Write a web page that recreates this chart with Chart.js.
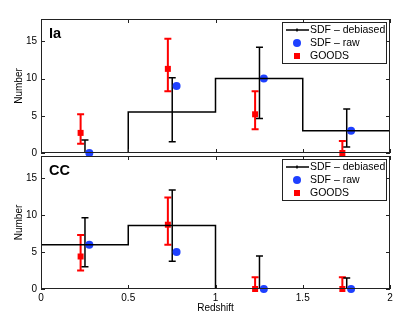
<!DOCTYPE html>
<html>
<head>
<meta charset="utf-8">
<script src="https://cdn.jsdelivr.net/npm/chart.js@4.4.0/dist/chart.umd.min.js"></script>
<style>
  body { margin: 0; background: #fff; }
  #wrap { position: relative; width: 415px; height: 322px; overflow: hidden; }
  canvas { position: absolute; left: 0; }
  #top { top: 0; }
  #bottom { top: 142px; }
</style>
</head>
<body>
<div id="wrap">
  <canvas id="top" width="415" height="167"></canvas>
  <canvas id="bottom" width="415" height="180"></canvas>
</div>
<script>
const FONT = '"Liberation Sans", Arial, Helvetica, sans-serif';

// bins and positions
const binEdges = [0, 0.5, 1, 1.5, 2];
const debX = [0.252, 0.752, 1.252, 1.752];
const rawX = [0.277, 0.777, 1.277, 1.777];
const goodsX = [0.227, 0.727, 1.227, 1.727];
const xTickValues = [0, 0.5, 1, 1.5, 2];
const xTickLabels = ['0', '0.5', '1', '1.5', '2'];
const yTickValues = [0, 5, 10, 15];

// Ia panel
const iaDebiased = [0, 5.5, 10, 3];
const iaDebLo = [0, 1.5, 4.65, 0.8];
const iaDebHi = [1.75, 10.1, 14.2, 5.9];
const iaRaw = [0, 9, 10, 3];
const iaGoods = [2.7, 11.3, 5.2, 0];
const iaGoodsLo = [1.25, 8.3, 3.2, 0];
const iaGoodsHi = [5.2, 15.35, 8.3, 1.6];

// CC panel
const ccDebiased = [6, 8.6, 0, 0];
const ccDebLo = [3, 3.75, 0, 0];
const ccDebHi = [9.65, 13.4, 4.45, 1.5];
const ccRaw = [6, 5, 0, 0];
const ccGoods = [4.4, 8.7, 0, 0];
const ccGoodsLo = [2.5, 6, 0, 0];
const ccGoodsHi = [7.3, 12.4, 1.6, 1.6];

const BLUE = 'rgb(30,64,255)';
const RED = 'rgb(255,0,0)';

function stepPoints(vals) {
    const pts = vals.map((v, i) => ({x: binEdges[i], y: v}));
    pts.push({x: binEdges[binEdges.length - 1], y: vals[vals.length - 1]});
    return pts;
}

function pts(xs, ys) {
    return xs.map((x, i) => ({x: x, y: ys[i]}));
}

// error bars, drawn before the markers
function errPlugin(sets) {
    return {
        id: 'errbars',
        beforeDatasetsDraw(chart) {
            const {ctx, scales: {x, y}} = chart;
            ctx.save();
            sets.forEach(s => {
                ctx.strokeStyle = s.color;
                ctx.lineWidth = s.width;
                s.x.forEach((xv, i) => {
                    const px = x.getPixelForValue(xv);
                    const lo = y.getPixelForValue(s.lo[i]);
                    const hi = y.getPixelForValue(s.hi[i]);
                    ctx.beginPath();
                    ctx.moveTo(px, lo);
                    ctx.lineTo(px, hi);
                    ctx.moveTo(px - 3.5, hi);
                    ctx.lineTo(px + 3.5, hi);
                    if (s.lo[i] > 0) {
                        ctx.moveTo(px - 3.5, lo);
                        ctx.lineTo(px + 3.5, lo);
                    }
                    ctx.stroke();
                });
            });
            ctx.restore();
        }
    };
}

// matlab style box, inward ticks, panel tag and legend
function framePlugin(tag) {
    return {
        id: 'frame',
        afterDraw(chart) {
            const {ctx, chartArea: a, scales: {x, y}} = chart;
            ctx.save();
            ctx.strokeStyle = '#222';
            ctx.lineWidth = 1;
            ctx.strokeRect(a.left + 0.5, a.top + 0.5, a.right - a.left - 1, a.bottom - a.top - 1);
            ctx.beginPath();
            x.ticks.forEach(t => {
                const px = Math.round(x.getPixelForValue(t.value)) + 0.5;
                ctx.moveTo(px, a.bottom); ctx.lineTo(px, a.bottom - 4);
                ctx.moveTo(px, a.top); ctx.lineTo(px, a.top + 4);
            });
            y.ticks.forEach(t => {
                const py = Math.round(y.getPixelForValue(t.value)) + 0.5;
                ctx.moveTo(a.left, py); ctx.lineTo(a.left + 4, py);
                ctx.moveTo(a.right, py); ctx.lineTo(a.right - 4, py);
            });
            ctx.stroke();

            ctx.fillStyle = '#000';
            ctx.font = 'bold 14.5px ' + FONT;
            ctx.textBaseline = 'alphabetic';
            ctx.fillText(tag, a.left + 8, a.top + 19);

            // legend box
            const bx = a.right - 108, by = a.top + 3, bw = 104, bh = 41;
            ctx.fillStyle = '#fff';
            ctx.fillRect(bx, by, bw, bh);
            ctx.strokeStyle = '#222';
            ctx.strokeRect(bx + 0.5, by + 0.5, bw, bh);
            const rows = [by + 8, by + 21, by + 34];
            const cx = bx + 15;
            ctx.strokeStyle = '#000';
            ctx.lineWidth = 1.5;
            ctx.beginPath();
            ctx.moveTo(bx + 4, rows[0]); ctx.lineTo(bx + 27, rows[0]);
            ctx.moveTo(cx, rows[0] - 1.5); ctx.lineTo(cx, rows[0] + 1.5);
            ctx.stroke();
            ctx.fillStyle = BLUE;
            ctx.beginPath();
            ctx.arc(cx, rows[1], 4, 0, Math.PI * 2);
            ctx.fill();
            ctx.fillStyle = RED;
            ctx.fillRect(cx - 3, rows[2] - 3, 6, 6);
            ctx.fillStyle = '#000';
            ctx.font = '10.5px ' + FONT;
            ctx.textBaseline = 'middle';
            ['SDF \u2013 debiased', 'SDF \u2013 raw', 'GOODS'].forEach((t, i) => {
                ctx.fillText(t, bx + 28, rows[i]);
            });
            ctx.restore();
        }
    };
}

function makeChart(id, tag, deb, debLo, debHi, raw, goods, goodsLo, goodsHi, bottomAxis) {
    const ctx = document.getElementById(id).getContext('2d');
    return new Chart(ctx, {
        type: 'scatter',
        data: {
            datasets: [{
                type: 'line',
                label: 'SDF \u2013 debiased',
                data: stepPoints(deb),
                stepped: 'before',
                borderColor: '#000',
                borderWidth: 1.5,
                pointRadius: 0,
                fill: false
            }, {
                label: 'SDF \u2013 raw',
                data: pts(rawX, raw),
                pointStyle: 'circle',
                pointRadius: 4,
                pointHoverRadius: 4,
                backgroundColor: BLUE,
                borderWidth: 0,
                clip: false
            }, {
                label: 'GOODS',
                data: pts(goodsX, goods),
                pointStyle: 'rect',
                pointRadius: 4.25,
                pointHoverRadius: 4.25,
                backgroundColor: RED,
                borderWidth: 0,
                clip: false
            }]
        },
        options: {
            responsive: false,
            animation: false,
            layout: {
                // canvases overlap so the axis label margins never push the plot areas
                padding: bottomAxis
                    ? {left: 0, top: 14, right: 25, bottom: 0}
                    : {left: 0, top: 19, right: 25, bottom: 14}
            },
            scales: {
                x: {
                    type: 'linear',
                    min: 0,
                    max: 2,
                    display: bottomAxis,
                    grid: {display: false, drawTicks: false},
                    border: {display: false},
                    afterBuildTicks: s => { s.ticks = xTickValues.map(v => ({value: v})); },
                    ticks: {
                        font: {family: FONT, size: 10},
                        color: '#000',
                        padding: 3,
                        maxRotation: 0,
                        callback: (v, i) => xTickLabels[i]
                    },
                    title: {
                        display: true,
                        text: 'Redshift',
                        font: {family: FONT, size: 10},
                        color: '#000',
                        padding: {top: 0, bottom: 8}
                    },
                    afterFit: s => { s.height = bottomAxis ? 33 : 0; }
                },
                y: {
                    min: 0,
                    max: 18,
                    grid: {display: false, drawTicks: false},
                    border: {display: false},
                    afterBuildTicks: s => { s.ticks = yTickValues.map(v => ({value: v})); },
                    ticks: {
                        font: {family: FONT, size: 10},
                        color: '#000',
                        padding: 4
                    },
                    title: {
                        display: true,
                        text: 'Number',
                        font: {family: FONT, size: 10},
                        color: '#000',
                        padding: {top: 13, bottom: 0}
                    },
                    afterFit: s => { s.width = 41; }
                }
            },
            plugins: {
                legend: {display: false},
                tooltip: {enabled: false}
            }
        },
        plugins: [
            errPlugin([
                {x: goodsX, lo: goodsLo, hi: goodsHi, color: RED, width: 2},
                {x: debX, lo: debLo, hi: debHi, color: '#000', width: 1.5}
            ]),
            framePlugin(tag)
        ]
    });
}

makeChart('top', 'Ia', iaDebiased, iaDebLo, iaDebHi, iaRaw, iaGoods, iaGoodsLo, iaGoodsHi, false);
makeChart('bottom', 'CC', ccDebiased, ccDebLo, ccDebHi, ccRaw, ccGoods, ccGoodsLo, ccGoodsHi, true);
</script>
</body>
</html>
